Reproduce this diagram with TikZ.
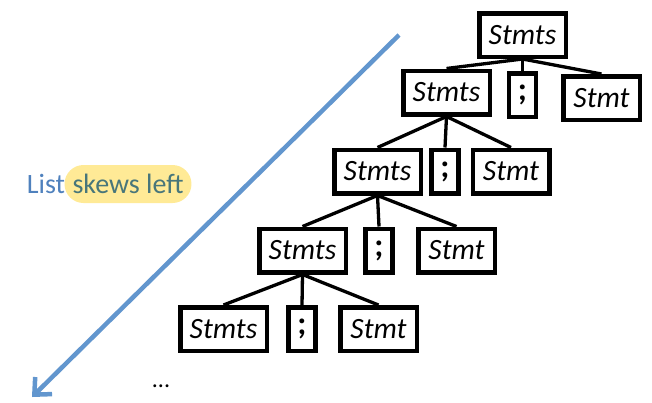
\documentclass[tikz,border=0pt]{standalone}
\usepackage{fontspec}
\setmainfont{Carlito}
\usetikzlibrary{arrows.meta}
\definecolor{arrowc}{RGB}{98,150,206}
\definecolor{listblue}{RGB}{79,129,189}
\definecolor{skewc}{RGB}{72,118,122}
\definecolor{hlyellow}{RGB}{255,234,150}
\begin{document}
\begin{tikzpicture}[x=1pt,y=-1pt,
  box/.style={draw=black, line width=4.5pt, fill=white, minimum height=43.5pt, inner sep=0pt, font=\fontsize{29.5}{32}\selectfont\itshape},
  bstmts/.style={box, minimum width=86.5pt},
  bsemi/.style={box, minimum width=27pt, font=\fontsize{33}{36}\selectfont\bfseries},
  bstmt/.style={box, minimum width=76.5pt},
  edge/.style={draw=black, line width=3.3pt},
  hl/.style={fill=hlyellow, rounded corners=19pt, minimum height=38pt, inner xsep=8pt, inner ysep=0pt, text=skewc, font=\fontsize{28}{30}\selectfont},
  arr/.style={draw=arrowc, line width=4.5pt, -{Straight Barb[length=13pt,width=24pt,line width=4.5pt]}}
]
\useasboundingbox (0,0) rectangle (652,402);

% level 0
\node[bstmts] (s0) at (522.5,35) {Stmts};
% level 1
\node[bstmts] (s1) at (446.5,92.5) {Stmts};
\node[bsemi]  (c1) at (522.5,95) {;};
\node[bstmt]  (t1) at (601.5,98) {Stmt};
% level 2
\node[bstmts] (s2) at (377.5,171.5) {Stmts};
\node[bsemi]  (c2) at (445,171.5) {;};
\node[bstmt]  (t2) at (511,171.5) {Stmt};
% level 3
\node[bstmts] (s3) at (302.5,250.5) {Stmts};
\node[bsemi]  (c3) at (379,250.5) {;};
\node[bstmt]  (t3) at (456.5,250.5) {Stmt};
% level 4
\node[bstmts] (s4) at (223.5,329) {Stmts};
\node[bsemi]  (c4) at (302,329) {;};
\node[bstmt]  (t4) at (378.5,329) {Stmt};

\foreach \p/\a/\b/\c in {s0/s1/c1/t1, s1/s2/c2/t2, s2/s3/c3/t3, s3/s4/c4/t4}{
  \draw[edge] (\p.south) -- (\a.north);
  \draw[edge] (\p.south) -- (\b.north);
  \draw[edge] (\p.south) -- (\c.north);
}

\node[font=\fontsize{24}{26}\selectfont, inner sep=0pt] (dots) at (161,386) {...};

% arrow
\coordinate (a1) at (399,35);
\coordinate (a2) at (32,397);
\draw[arr] (a1) -- (a2);

% label
\node[hl] (sk) at (128,184) {skews left};
\node[anchor=base east, inner sep=0pt, text=listblue, font=\fontsize{28}{30}\selectfont] (ls) at ([xshift=1pt]sk.base west) {List};
\end{tikzpicture}
\end{document}
